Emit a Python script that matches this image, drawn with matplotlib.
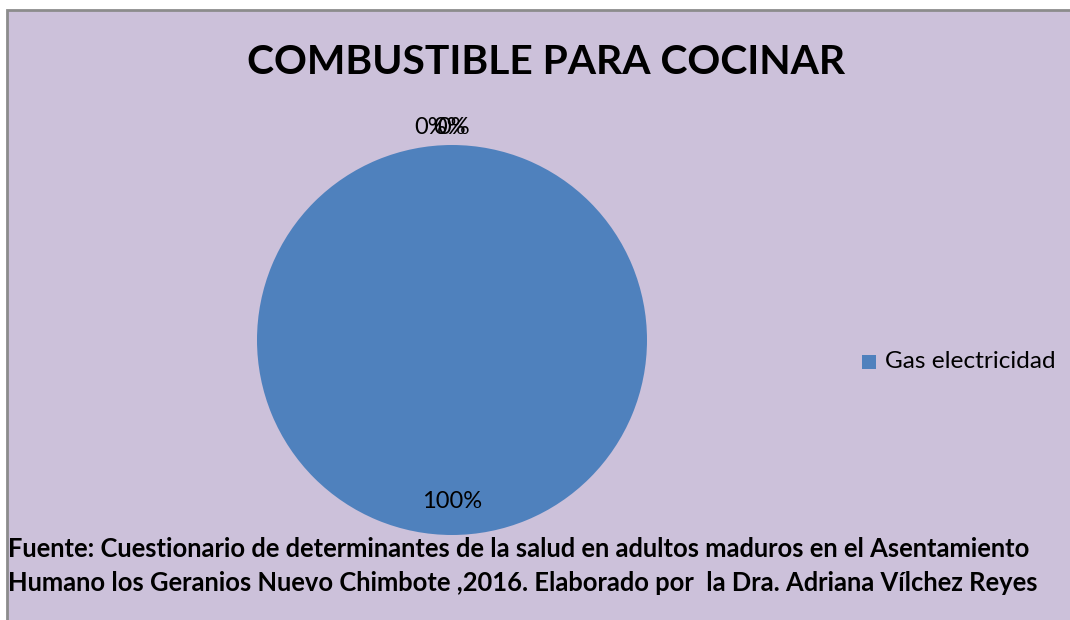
import matplotlib
matplotlib.use('Agg')
import matplotlib.pyplot as plt
from matplotlib.patches import Rectangle
import numpy as np

# Datos del gráfico
categorias = ['Gas electricidad', 'Leña, carbón', 'Bosta', 'Tuza']
porcentajes = [100, 0, 0, 0]
etiquetas = ['100%', '0%', '0%', '0%']
leyenda = ['Gas electricidad']

titulo = 'COMBUSTIBLE PARA COCINAR'
fuente = ('Fuente: Cuestionario de determinantes de la salud en adultos maduros en el Asentamiento\n'
          'Humano los Geranios Nuevo Chimbote ,2016. Elaborado por  la Dra. Adriana Vílchez Reyes')

fondo = '#CCC1DA'
azul = '#4F81BD'

W, H = 1070, 620
fig = plt.figure(figsize=(W / 100, H / 100), dpi=100)
fig.patch.set_facecolor('white')
ax = fig.add_axes([0, 0, 1, 1])
ax.set_xlim(0, W)
ax.set_ylim(H, 0)
ax.axis('off')

# Área del gráfico con borde gris
ax.add_patch(Rectangle((7, 10), W - 6, H - 8, facecolor=fondo,
                       edgecolor='#8C8C8C', linewidth=2, zorder=0))

ax.text(546, 62, titulo, ha='center', va='center', fontsize=29.3,
        fontweight='bold', family='Lato')

# Pastel en un eje propio (coordenadas en píxeles, eje y hacia arriba)
pax = fig.add_axes([0, 0, 1, 1])
cx, cy, r = 452, H - 340, 195
wedges, _ = pax.pie(porcentajes, colors=[azul] * len(porcentajes),
                    startangle=90, counterclock=False, center=(cx, cy),
                    radius=r, frame=True)
pax.set_xlim(0, W)
pax.set_ylim(0, H)
pax.axis('off')

# Etiquetas de porcentaje (los 0% se superponen como en el original)
desplaz = [0, -21, -2, 2]
for w, val, lab, dx in zip(wedges, porcentajes, etiquetas, desplaz):
    ang = np.deg2rad((w.theta1 + w.theta2) / 2)
    d = 0.83 if val > 0 else 1.09
    pax.text(cx + d * r * np.cos(ang) + dx, cy + d * r * np.sin(ang), lab,
             ha='center', va='center', fontsize=17, family='Lato')

# Leyenda (solo la primera categoría)
ax.add_patch(Rectangle((862, 355), 14, 14, facecolor=azul, edgecolor='none'))
ax.text(885, 362, leyenda[0], ha='left', va='center', fontsize=17.6, family='Lato')

ax.text(8, 566, fuente, ha='left', va='center', fontsize=18.4,
        fontweight='bold', family='Lato', linespacing=1.5)

fig.savefig('out.png', dpi=100, facecolor=fig.get_facecolor())
